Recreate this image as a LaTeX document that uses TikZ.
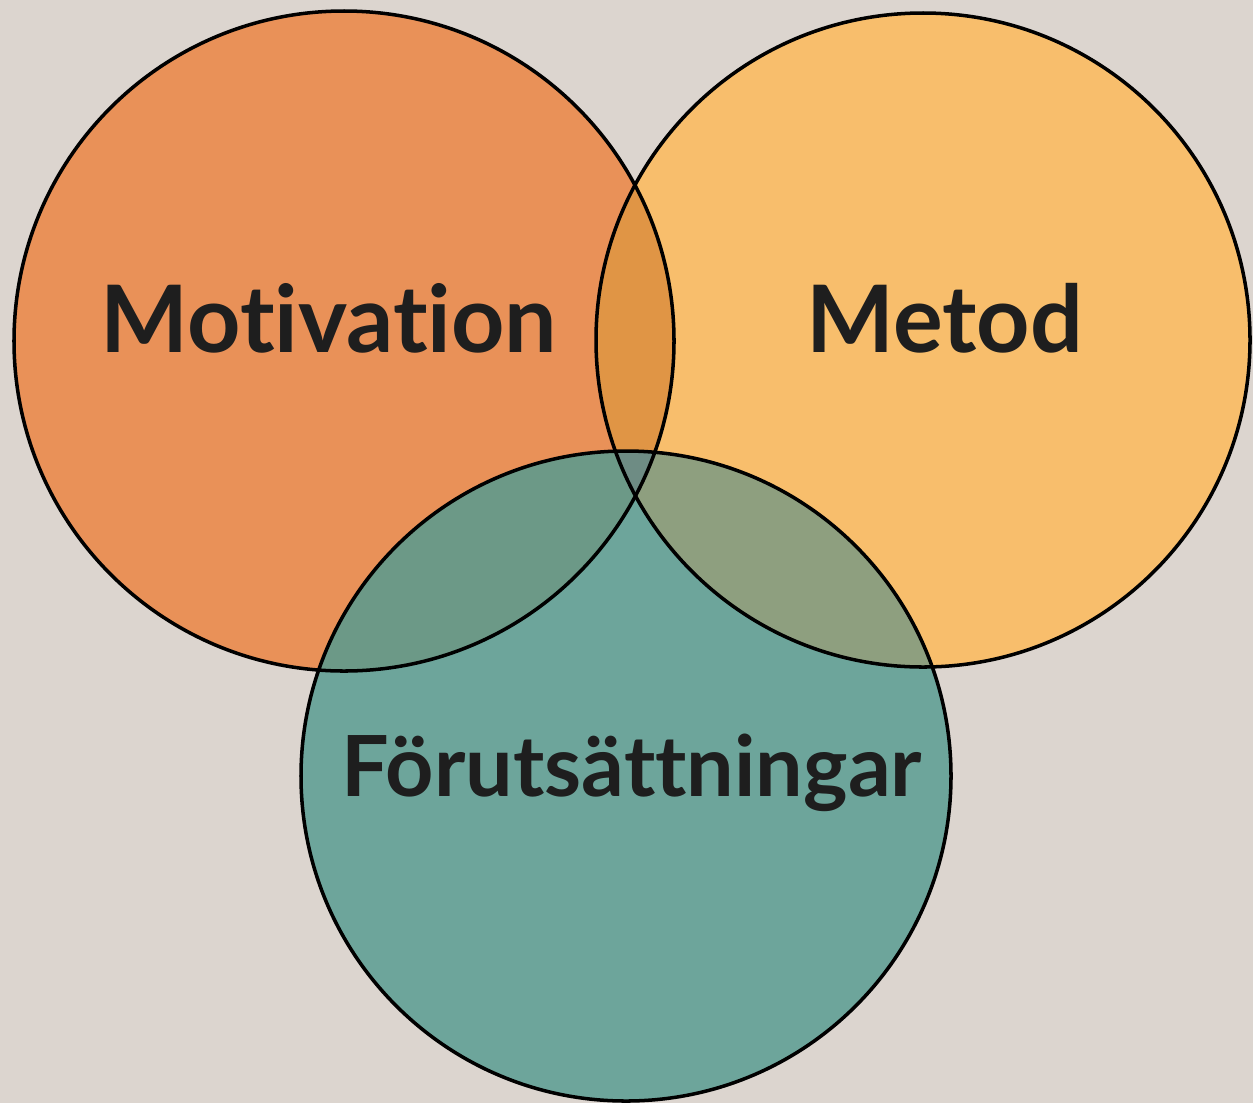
\documentclass[tikz,border=0pt]{standalone}
\usepackage{fontspec}
\setmainfont{Lato}[Ligatures={NoCommon,NoRare}]
\definecolor{bgc}{HTML}{DCD5CF}
\definecolor{motc}{HTML}{E99158}
\definecolor{metc}{HTML}{F8BE6C}
\definecolor{forc}{HTML}{6DA59B}
\definecolor{mmc}{HTML}{E09545}
\definecolor{mfc}{HTML}{6C9987}
\definecolor{efc}{HTML}{8E9F7F}
\definecolor{allc}{HTML}{6E8C84}
\definecolor{txtc}{HTML}{1E1E1E}
\tikzset{
  ring/.style={draw=black, line width=2pt},
  lbl/.style={font=\bfseries\fontsize{53}{62}\selectfont, text=txtc, anchor=base, inner sep=0pt},
  lblsmall/.style={lbl, font=\bfseries\fontsize{48}{58}\selectfont}
}
\begin{document}
\begin{tikzpicture}[x=0.02cm,y=-0.02cm]
\fill[bgc] (0,0) rectangle (1253,1103);
\useasboundingbox (0,0) rectangle (1253,1103);
\def\cA{(344,341) circle[radius=330]}
\def\cB{(923,340) circle[radius=327]}
\def\cC{(626,776) circle[radius=325]}
\fill[motc] \cA;
\fill[metc] \cB;
\fill[forc] \cC;
\begin{scope}\clip \cA; \fill[mmc] \cB; \end{scope}
\begin{scope}\clip \cA; \fill[mfc] \cC; \end{scope}
\begin{scope}\clip \cB; \fill[efc] \cC; \end{scope}
\begin{scope}\clip \cA; \clip \cB; \fill[allc] \cC; \end{scope}
\draw[ring] \cA;
\draw[ring] \cB;
\draw[ring] \cC;
\node[lbl] (mot) at (329,352) {Motivation};
\node[lbl] (met) at (945,352) {Metod};
\node[lblsmall] (for) at (632,796) {Förutsättningar};
\end{tikzpicture}
\end{document}
